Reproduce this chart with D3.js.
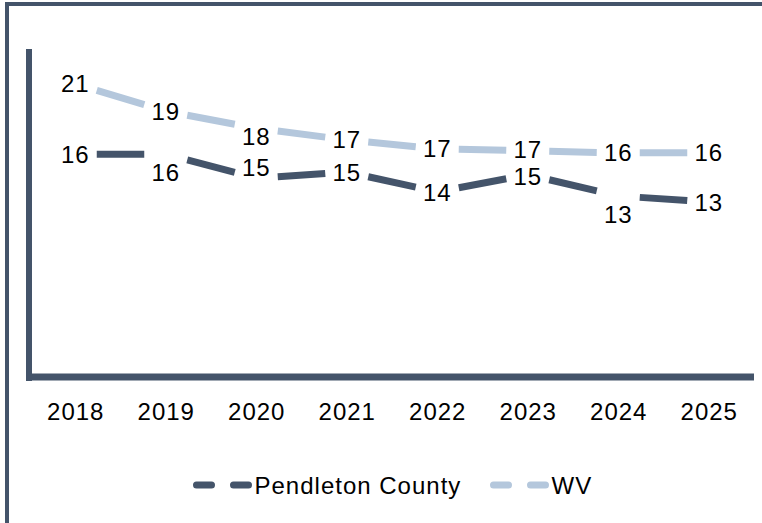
<!DOCTYPE html>
<html>
<head>
<meta charset="utf-8">
<script src="https://cdn.jsdelivr.net/npm/d3@7"></script>
<style>
    body { margin: 0; background: #ffffff; }
    text { font-family: "Liberation Sans", Arial, sans-serif; fill: #000000; letter-spacing: 1px; }
</style>
</head>
<body>
<svg id="chartSvg"></svg>
<script>

// data
let years = ["2018", "2019", "2020", "2021", "2022", "2023", "2024", "2025"];
let pendletonValues = [16.3, 16.3, 14.55, 15.0, 13.55, 14.8, 13.25, 12.8];
let wvValues = [21.45, 19.45, 18.2, 17.35, 16.7, 16.55, 16.4, 16.4];
let seriesNames = ["Pendleton County", "WV"];

class LineChart {

    constructor() {
        this.width = 762;
        this.height = 523;
        this.dark = "#44546a";
        this.light = "#b4c7dc";

        this.series = [
            { name: seriesNames[0], values: pendletonValues, color: this.dark },
            { name: seriesNames[1], values: wvValues, color: this.light }
        ];

        this.svg = d3.select("#chartSvg")
            .attr("width", this.width)
            .attr("height", this.height);

        this.x = d3.scalePoint().domain(years).range([30, 754]).padding(0.5);
        this.y = d3.scaleLinear().domain([0, 24]).range([377, 49]);

        this.drawFrame();
        this.drawAxes();
        this.drawLines();
        this.drawLabels();
        this.drawLegend();
    }

    drawFrame() {
        // partial border around the chart (top and left sides only show)
        this.svg.append("path")
            .attr("d", "M7,523 V4 H762")
            .style("fill", "none")
            .style("stroke", this.dark)
            .style("stroke-width", 4);
    }

    drawAxes() {
        let self = this;

        this.svg.append("line")
            .attr("x1", 29).attr("x2", 29)
            .attr("y1", this.y(24)).attr("y2", 381)
            .style("stroke", this.dark)
            .style("stroke-width", 6);

        let xAxis = d3.axisBottom(this.x).tickSize(0).tickPadding(22);
        let g = this.svg.append("g")
            .attr("transform", "translate(0," + this.y(0) + ")")
            .call(xAxis);

        g.select(".domain")
            .attr("d", "M26,0 H754")
            .style("stroke", self.dark)
            .style("stroke-width", 7);

        g.selectAll(".tick text")
            .attr("dy", null)
            .attr("y", 34)
            .attr("dominant-baseline", "central")
            .style("font-size", "24px")
            .style("font-family", "Liberation Sans, Arial, sans-serif")
            .style("fill", "#000");
    }

    drawLines() {
        let self = this;
        let inset = 21.5;

        this.series.forEach(function (s) {
            let pts = s.values.map((v, i) => [self.x(years[i]), self.y(v)]);
            let segs = d3.pairs(pts);

            // each stretch between two years is one long dash, centred in the gap
            self.svg.append("g").selectAll("line")
                .data(segs)
                .join("line")
                .attr("x1", d => d[0][0] + inset)
                .attr("y1", d => d[0][1] + (d[1][1] - d[0][1]) * inset / (d[1][0] - d[0][0]))
                .attr("x2", d => d[1][0] - inset)
                .attr("y2", d => d[1][1] - (d[1][1] - d[0][1]) * inset / (d[1][0] - d[0][0]))
                .style("stroke", s.color)
                .style("stroke-width", 7)
                .style("stroke-linecap", "butt");
        });
    }

    drawLabels() {
        let self = this;
        // hand nudges so labels clear the lines, like in the original
        let nudge = [
            [0, 18, -11, 0, 1, 2, 19, 0],
            [0, 0, 8, 0, 0, -1, 0, 0]
        ];

        this.series.forEach(function (s, k) {
            self.svg.append("g").selectAll("text")
                .data(s.values)
                .join("text")
                .attr("x", (d, i) => self.x(years[i]))
                .attr("y", (d, i) => self.y(d) + nudge[k][i])
                .attr("text-anchor", "middle")
                .attr("dominant-baseline", "central")
                .style("font-size", "24px")
                .text(d => Math.round(d));
        });
    }

    drawLegend() {
        let self = this;
        let legendX = [196.5, 493.5];
        let legendY = 485;

        let items = this.svg.append("g").selectAll("g")
            .data(this.series)
            .join("g")
            .attr("transform", (d, i) => "translate(" + legendX[i] + "," + legendY + ")");

        items.append("line")
            .attr("x1", 0).attr("x2", 52)
            .attr("y1", 0).attr("y2", 0)
            .style("stroke", d => d.color)
            .style("stroke-width", 7)
            .style("stroke-linecap", "round")
            .style("stroke-dasharray", "15,22");

        items.append("text")
            .attr("x", 58)
            .attr("y", 0)
            .attr("dominant-baseline", "central")
            .style("font-size", "24px")
            .text(d => d.name);
    }
}

let chart = new LineChart();

</script>
</body>
</html>
